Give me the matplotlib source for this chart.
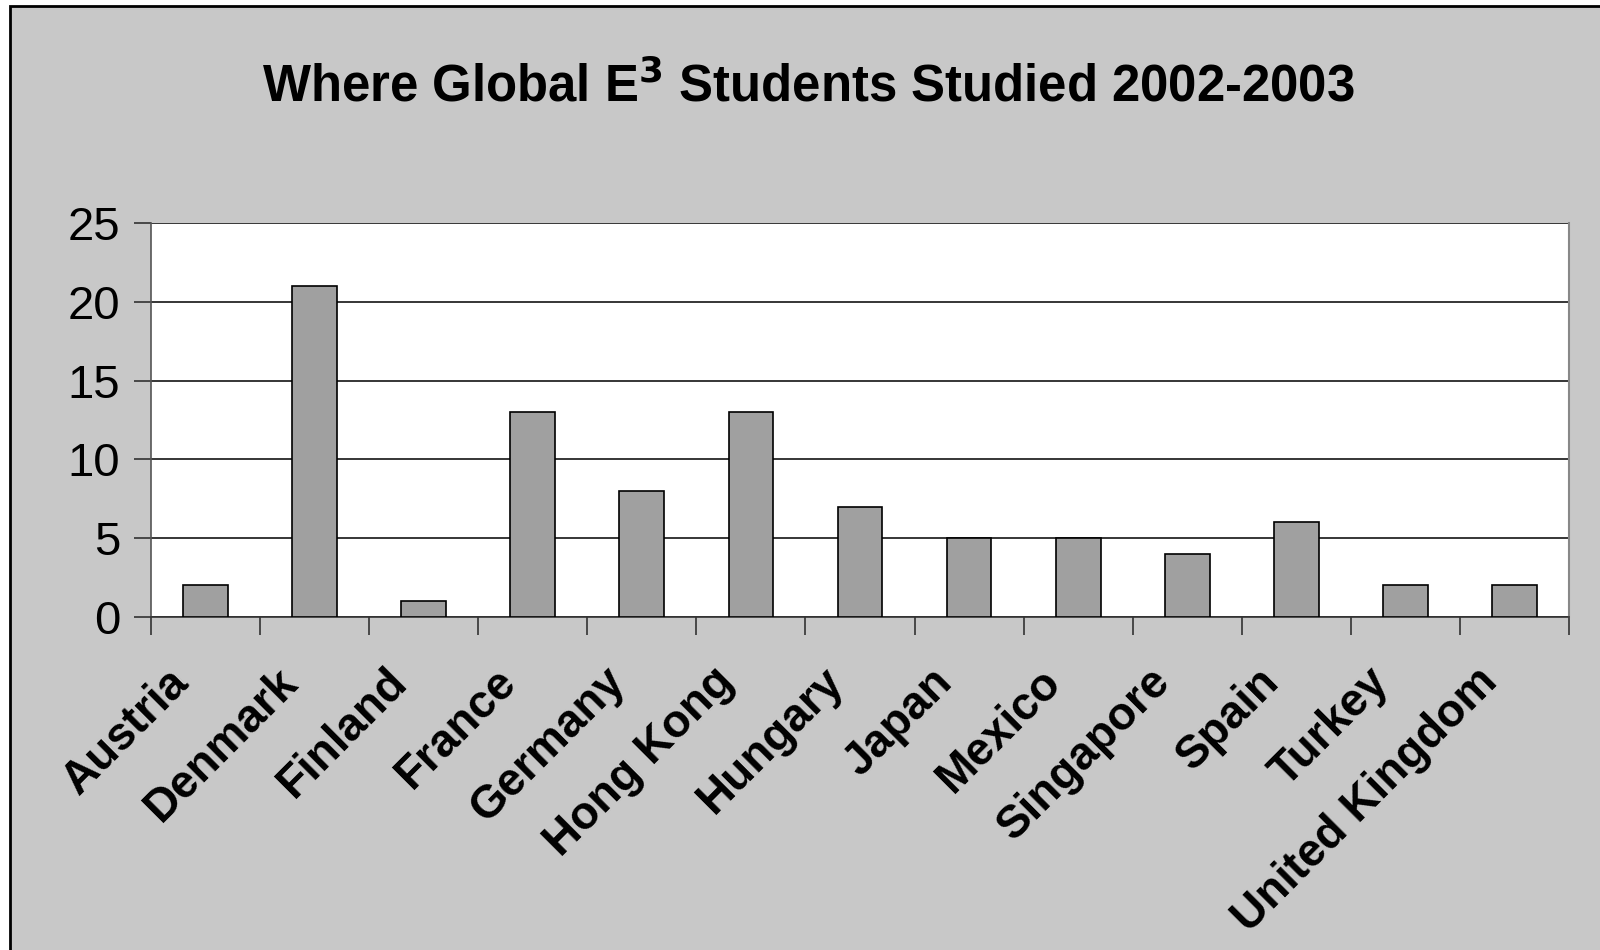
import matplotlib.pyplot as plt
from matplotlib.patches import Rectangle
from matplotlib.transforms import ScaledTranslation
import numpy as np

paises = ["Austria", "Denmark", "Finland", "France", "Germany", "Hong Kong",
          "Hungary", "Japan", "Mexico", "Singapore", "Spain", "Turkey",
          "United Kingdom"]
estudiantes = [2, 21, 1, 13, 8, 13, 7, 5, 5, 4, 6, 2, 2]
y_ticks = [0, 5, 10, 15, 20, 25]

plt.rcParams['font.family'] = ['Liberation Sans', 'DejaVu Sans']

fig = plt.figure(figsize=(16, 9.5), dpi=100)
fig.patch.set_facecolor("white")
# fondo gris del area del grafico (detras de los ejes)
fig.patches.append(Rectangle((10/1600, -0.01), 1.0, 1 - 6/950 + 0.01,
                             transform=fig.transFigure, facecolor="#c8c8c8",
                             edgecolor="black", linewidth=2, zorder=-10))

ax = fig.add_axes([151/1600, 1 - 617/950, 1418/1600, 394/950])
ax.set_facecolor("white")

x = np.arange(len(paises))
ax.bar(x, estudiantes, width=0.41, color="#a0a0a0", edgecolor="black",
       linewidth=1.2, zorder=3)

ax.set_xlim(-0.5, len(paises) - 0.5)
ax.set_ylim(0, 25)
ax.set_yticks(y_ticks)
ax.set_yticklabels([str(v) for v in y_ticks], fontsize=34)
ax.yaxis.grid(True, color="black", linewidth=1.1, zorder=1)
ax.tick_params(axis="y", length=12, width=1.2, color="#333333", pad=10)

ax.set_xticks(x)
ax.set_xticklabels(paises, fontsize=33, fontweight="bold", rotation=45,
                   ha="right", va="top", rotation_mode="anchor")
ax.set_xticks(np.arange(-0.5, len(paises)), minor=True)
ax.tick_params(axis="x", which="major", length=0, pad=30)
ax.tick_params(axis="x", which="minor", length=13, width=1.2, color="#333333")
# correr las etiquetas un poco a la izquierda como en el original
desplaz = ScaledTranslation(-39/100, -1/100, fig.dpi_scale_trans)
for lab in ax.get_xticklabels():
    lab.set_transform(lab.get_transform() + desplaz)

ax.spines["top"].set_visible(False)
ax.spines["right"].set_color("#888888")
ax.spines["right"].set_linewidth(1.5)
ax.spines["left"].set_color("#555555")
ax.spines["left"].set_linewidth(1.2)
ax.spines["bottom"].set_color("#333333")
ax.spines["bottom"].set_linewidth(1.2)

fig.text(0.505, 1 - 87/950, r"Where Global E$^{\mathbf{3}}$ Students Studied 2002-2003",
         ha="center", va="center", fontsize=36.6, fontweight="bold")

fig.savefig("out.png", dpi=100, facecolor=fig.get_facecolor())
